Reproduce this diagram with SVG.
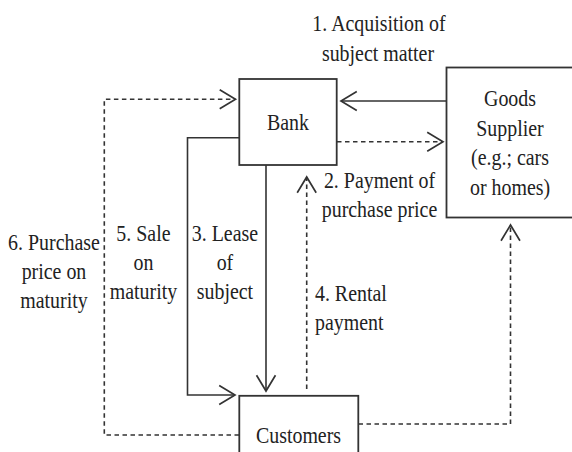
<svg xmlns="http://www.w3.org/2000/svg" width="572" height="452" viewBox="0 0 572 452">
<style>
.box{fill:#fff;stroke:#333;stroke-width:1.8}
.ln{fill:none;stroke:#333;stroke-width:1.6}
.dash{fill:none;stroke:#333;stroke-width:1.6;stroke-dasharray:4.5 3.5}
.m{text-anchor:middle}
</style>
<defs>
<marker id="ah" markerUnits="userSpaceOnUse" markerWidth="20" markerHeight="24" viewBox="-17 -11 19 22" refX="0" refY="0" orient="auto">
<path d="M-15,-9 L0,0 L-15,9" fill="none" stroke="#333" stroke-width="1.6"/>
</marker>
</defs>
<rect width="572" height="452" fill="#fff"/>
<g id="connectors">
<path class="ln" d="M446,101 H341" marker-end="url(#ah)"/>
<path class="dash" d="M337,141.7 H443" marker-end="url(#ah)"/>
<path class="ln" d="M266,165 V391" marker-end="url(#ah)"/>
<path class="ln" d="M239,137.7 H187.5 V395 H235" marker-end="url(#ah)"/>
<path class="dash" d="M306.7,389 V177" marker-end="url(#ah)"/>
<path class="dash" d="M239,435 H104.3 V99.3 H235.5" marker-end="url(#ah)"/>
<path class="dash" d="M358.5,424 H510.5 V225" marker-end="url(#ah)"/>
</g>
<g id="bank"><rect class="box" x="239.3" y="79" width="97.4" height="86"/></g>
<g id="supplier"><rect class="box" x="446.5" y="67.5" width="130" height="150"/></g>
<g id="customers"><rect class="box" x="239.3" y="395.8" width="119" height="62"/></g>
<g id="labels" transform="scale(0.885,1)" font-family="Liberation Serif, Times New Roman, serif" font-size="22.5" fill="#222">
<text class="m" x="428.2" y="31.5">1. Acquisition of</text>
<text class="m" x="427.1" y="61.5">subject matter</text>
<text class="m" x="325.4" y="130">Bank</text>
<text class="m" x="576.3" y="106.5">Goods</text>
<text class="m" x="576.3" y="136">Supplier</text>
<text class="m" x="576.3" y="165.5">(e.g.; cars</text>
<text class="m" x="576.3" y="195">or homes)</text>
<text class="m" x="428.8" y="188.3">2. Payment of</text>
<text class="m" x="428.8" y="216.7">purchase price</text>
<text x="355.9" y="301.5">4. Rental</text>
<text x="355.9" y="330">payment</text>
<text class="m" x="61" y="250">6. Purchase</text>
<text class="m" x="61" y="279">price on</text>
<text class="m" x="61" y="308">maturity</text>
<text class="m" x="162.1" y="241">5. Sale</text>
<text class="m" x="162.1" y="270">on</text>
<text class="m" x="162.1" y="299">maturity</text>
<text class="m" x="254.2" y="241">3. Lease</text>
<text class="m" x="254.2" y="270">of</text>
<text class="m" x="254.2" y="299">subject</text>
<text class="m" x="337.3" y="443">Customers</text>
</g>
</svg>
